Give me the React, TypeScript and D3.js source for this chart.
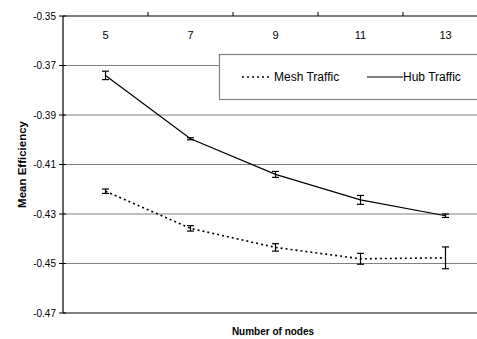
import React from "react";
import * as d3 from "d3";

const categories = ["5", "7", "9", "11", "13"];
const hubValues = [-0.374, -0.3996, -0.414, -0.4243, -0.4307];
const hubErrors = [0.0017, 0.0004, 0.0012, 0.0018, 0.0007];
const meshValues = [-0.4208, -0.4358, -0.4435, -0.4481, -0.4477];
const meshErrors = [0.0009, 0.0011, 0.0015, 0.0022, 0.0044];
const yTicks = [-0.47, -0.45, -0.43, -0.41, -0.39, -0.37, -0.35];
const yTickLabels = ["-0.47", "-0.45", "-0.43", "-0.41", "-0.39", "-0.37", "-0.35"];
const seriesNames = ["Mesh Traffic", "Hub Traffic"];
const xTitle = "Number of nodes";
const yTitle = "Mean Efficiency";

const W = 477;
const H = 339;
const left = 63;
const right = 488;
const top = 16;
const bottom = 313;
const font = "'Liberation Sans', Arial, sans-serif";

export default function App() {
  const x = d3.scaleBand<string>().domain(categories).range([left, right]).padding(0);
  const y = d3.scaleLinear().domain([-0.47, -0.35]).range([bottom, top]);
  const cx = (c: string) => (x(c) as number) + x.bandwidth() / 2;

  const line = d3
    .line<number>()
    .x((_, i) => cx(categories[i]))
    .y((d) => y(d));

  const boundaries = categories.slice(1).map((c) => x(c) as number);

  const errBars = (vals: number[], errs: number[], color: string, key: string) =>
    vals.map((v, i) => {
      const px = cx(categories[i]);
      const y1 = y(v + errs[i]);
      const y2 = y(v - errs[i]);
      return (
        <g key={key + i} stroke={color} strokeWidth={1.2}>
          <line x1={px} x2={px} y1={y1} y2={y2} />
          <line x1={px - 3.5} x2={px + 3.5} y1={y1} y2={y1} />
          <line x1={px - 3.5} x2={px + 3.5} y1={y2} y2={y2} />
        </g>
      );
    });

  return (
    <div style={{ position: "absolute", left: 0, top: 0 }}>
      <svg width={W} height={H} style={{ display: "block", background: "#fff" }} fontFamily={font}>
        <defs>
          <clipPath id="clip">
            <rect x={0} y={0} width={W} height={H} />
          </clipPath>
        </defs>
        {/* gridlines */}
        {yTicks.slice(1, -1).map((t) => (
          <line key={"g" + t} x1={left} x2={right} y1={y(t)} y2={y(t)} stroke="#808080" strokeWidth={1.2} />
        ))}
        {/* bottom line */}
        <line x1={left} x2={right} y1={y(-0.47)} y2={y(-0.47)} stroke="#000" strokeWidth={1.2} />
        {/* top category axis */}
        <line x1={left} x2={right} y1={top} y2={top} stroke="#000" strokeWidth={1.2} />
        {boundaries.map((b, i) => (
          <line key={"xt" + i} x1={b} x2={b} y1={top - 4} y2={top} stroke="#000" strokeWidth={1} />
        ))}
        {categories.map((c) => (
          <text key={"xl" + c} x={cx(c)} y={35} fontSize={11} textAnchor="middle" dominantBaseline="central" fill="#000">
            {c}
          </text>
        ))}
        {/* y axis */}
        <line x1={left} x2={left} y1={top} y2={bottom} stroke="#000" strokeWidth={1.2} />
        {yTicks.map((t, i) => (
          <g key={"yt" + t}>
            <line x1={left - 4} x2={left + 3} y1={y(t)} y2={y(t)} stroke="#000" strokeWidth={1} />
            <text x={56} y={y(t)} fontSize={10} textAnchor="end" dominantBaseline="central" fill="#000">
              {yTickLabels[i]}
            </text>
          </g>
        ))}
        {/* series */}
        <g clipPath="url(#clip)">
          <path d={line(hubValues) || ""} fill="none" stroke="#000" strokeWidth={1.2} />
          <path d={line(meshValues) || ""} fill="none" stroke="#000" strokeWidth={1.6} strokeDasharray="2,3" />
          {errBars(hubValues, hubErrors, "#000", "h")}
          {errBars(meshValues, meshErrors, "#000", "m")}
        </g>
        {/* legend */}
        <rect x={219.5} y={54.5} width={300} height={45} fill="#fff" stroke="#808080" strokeWidth={1.2} />
        <line x1={242} x2={272} y1={77} y2={77} stroke="#000" strokeWidth={1.6} strokeDasharray="2,3" />
        <text x={274} y={77} fontSize={12} dominantBaseline="central" fill="#000">
          {seriesNames[0]}
        </text>
        <line x1={367} x2={403} y1={77} y2={77} stroke="#000" strokeWidth={1.2} />
        <text x={403} y={77} fontSize={12} dominantBaseline="central" fill="#000">
          {seriesNames[1]}
        </text>
        {/* axis titles */}
        <text x={273} y={331} fontSize={10} fontWeight="bold" textAnchor="middle" dominantBaseline="central" fill="#000">
          {xTitle}
        </text>
        <text
          transform={`translate(21.5,164.5) rotate(-90)`}
          fontSize={11.5}
          fontWeight="bold"
          textAnchor="middle"
          dominantBaseline="central"
          fill="#000"
        >
          {yTitle}
        </text>
      </svg>
    </div>
  );
}
